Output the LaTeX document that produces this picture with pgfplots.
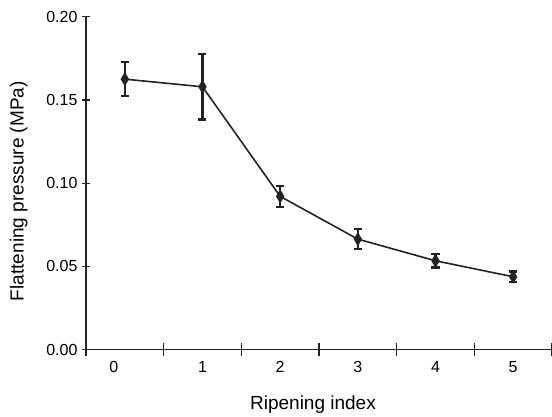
\documentclass[border=0pt]{standalone}
\usepackage{pgfplots}
\pgfplotsset{compat=1.18}
\usepackage{fontspec}
\setmainfont{Liberation Sans}
\definecolor{dk}{HTML}{222222}
\begin{document}
\begin{tikzpicture}
\useasboundingbox (-86bp,-67.3bp) rectangle (466bp,349.7bp);
\begin{axis}[
  scale only axis,
  width=466bp, height=333bp,
  xmin=-0.5, xmax=5.5,
  ymin=0, ymax=0.2,
  axis x line*=bottom,
  axis y line*=left,
  axis line style={line width=1.3pt, color=dk},
  xtick={0,1,2,3,4,5},
  xticklabels={\makebox[0pt]{\hspace*{-22bp}0},1,2,3,4,5},
  major x tick style={draw=none},
  minor xtick={-0.5,0.5,1.5,2.5,3.5,4.5,5.5},
  minor tick length=13bp,
  minor x tick style={line width=1.3pt, color=dk},
  ytick={0,0.05,0.1,0.15,0.2},
  major tick length=8bp,
  ytick style={line width=1.3pt, color=dk},
  tick align=center,
  yticklabel style={/pgf/number format/fixed, /pgf/number format/precision=2, /pgf/number format/fixed zerofill, /pgf/number format/assume math mode=true, font=\fontsize{16bp}{18bp}\selectfont, xshift=-1bp},
  xticklabel style={font=\fontsize{16bp}{18bp}\selectfont, yshift=-4bp},
  scaled y ticks=false,
  xlabel={Ripening index},
  ylabel={Flattening pressure (MPa)},
  label style={font=\fontsize{19bp}{21bp}\selectfont},
  xlabel style={yshift=-16bp, xshift=-6bp},
  ylabel style={yshift=12bp, xshift=-8bp},
  clip=false,
  every error bar/.style={line width=2.2pt, color=dk},
]
\addplot[color=dk, line width=1.6pt, mark=diamond*, mark size=5.5bp,
  mark options={solid, fill=dk, xscale=0.8},
  error bars/.cd, y dir=both, y explicit,
  error mark options={rotate=90, mark size=4bp, line width=2.6pt, color=dk}]
  table[x=x, y=y, y error=e] {
x y e
0 0.1625 0.0102
1 0.1579 0.0198
2 0.0921 0.0063
3 0.0664 0.0060
4 0.0534 0.0040
5 0.0438 0.0031
};
\end{axis}
\end{tikzpicture}
\end{document}
